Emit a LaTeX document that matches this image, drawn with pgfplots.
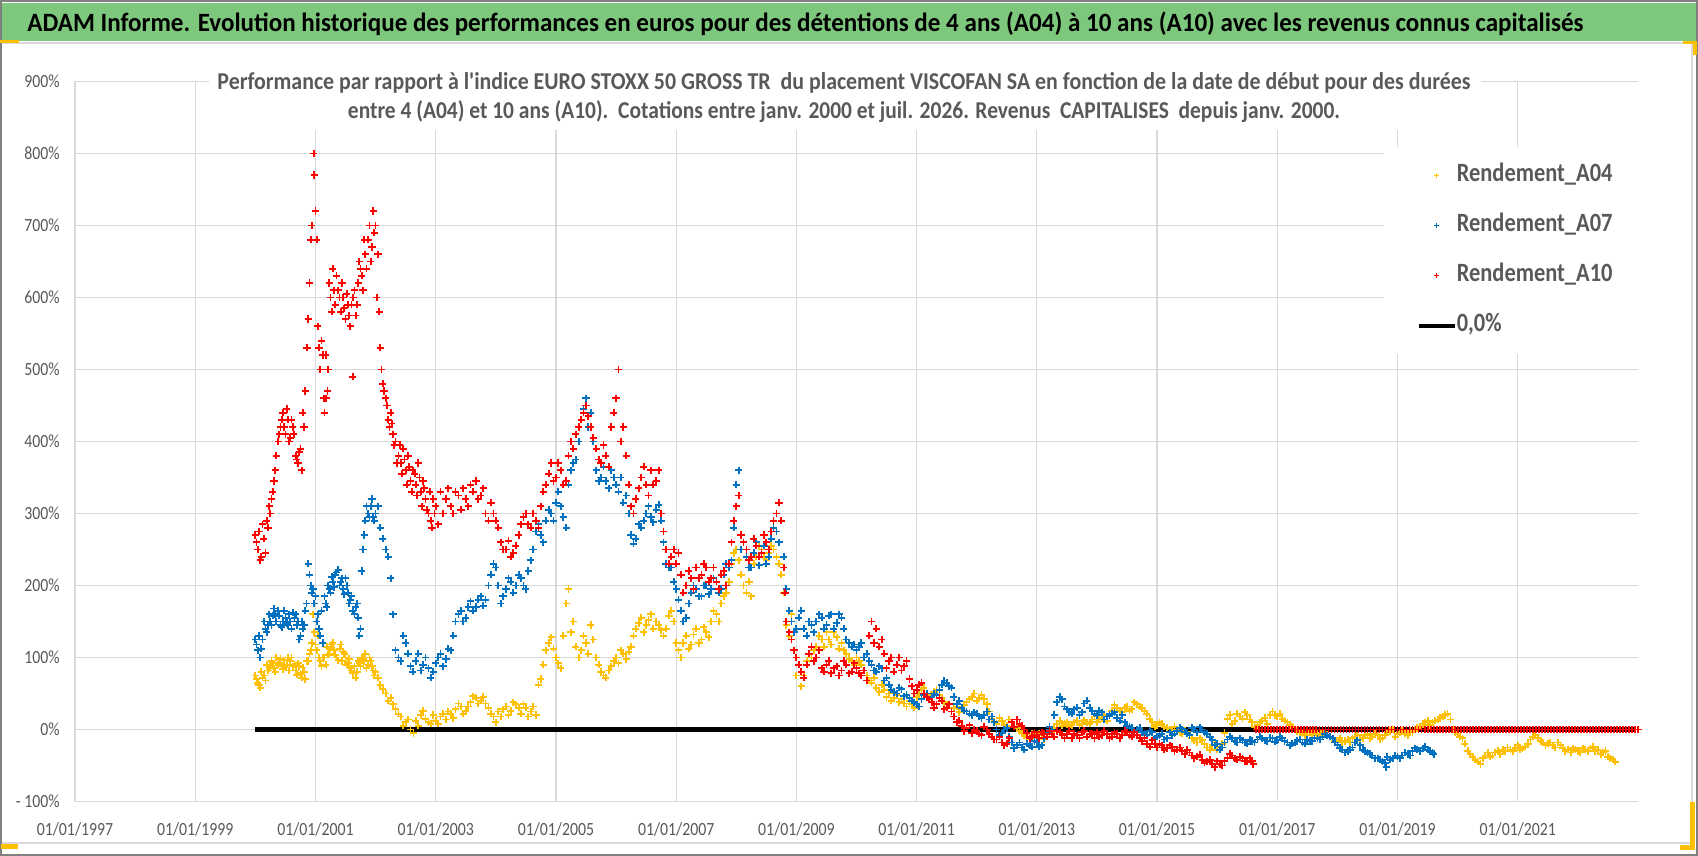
\documentclass[border=0pt]{standalone}
\usepackage{fontspec}
\setmainfont{Carlito}
\usepackage{graphicx}
\usepackage{pgfplots}
\pgfplotsset{compat=1.18}
\definecolor{cyel}{HTML}{FFC000}
\definecolor{cblu}{HTML}{0070C0}
\definecolor{cred}{HTML}{FF0000}
\definecolor{cgrid}{HTML}{D9D9D9}
\definecolor{ctxt}{HTML}{595959}
\definecolor{cgreen}{HTML}{7EC87E}
\definecolor{corange}{HTML}{FFC000}
\newcommand{\tk}[1]{\scalebox{0.85}[1]{#1}}
\newcommand{\lgt}[1]{\scalebox{0.85}[1]{#1}}
\pgfplotsset{
  mklegend/.style={legend image code/.code={\path (0pt,0pt) (18pt,0pt); \draw[##1, mark size=1.3pt, line width=0.6pt] plot coordinates {(9pt,0pt)};}},
  lnlegend/.style={legend image code/.code={\draw[##1] (0pt,0pt) -- (18pt,0pt);}},
  pts/.style={only marks, mark=+, mark size=1.8pt, line width=0.9pt},
}
\begin{document}
\begin{tikzpicture}[x=1pt,y=1pt]
\useasboundingbox (0,0) rectangle (849,428);
\fill[white] (0,0) rectangle (849,428);
\draw[cgrid, line width=0.6pt] (0.5,6.5) rectangle (846,406.5);
\fill[cgreen] (0.5,407.6) rectangle (848.5,426.4);
\draw[gray, line width=1pt] (0.5,0.5) rectangle (848.5,427.5);
\fill[corange] (0,406.5) rectangle (9.5,407.8);
\fill[corange] (841.5,406) rectangle (848.5,407.6);
\fill[corange] (846.5,400.5) rectangle (848.5,407.6);
\fill[corange] (845,3) rectangle (847.5,27);
\fill[corange] (840,3) rectangle (847.5,5.5);
\fill[corange] (0.5,3.5) rectangle (9,6);
\node[anchor=base west, inner sep=0pt] at (13.5,412.15) {\resizebox{778pt}{\height}{\fontsize{13.2}{15}\selectfont\bfseries ADAM Informe. Evolution historique des performances en euros pour des détentions de 4 ans (A04) à 10 ans (A10) avec les revenus connus capitalisés}};
\begin{axis}[
  at={(37.5pt,27.25pt)}, anchor=south west, scale only axis,
  width=781.5pt, height=360pt,
  xmin=1997, xmax=2023, ymin=-100, ymax=900,
  axis line style={draw=none},
  tick style={draw=none},
  xtick={1997,1999,2001,2003,2005,2007,2009,2011,2013,2015,2017,2019,2021},
  xticklabels={\tk{01/01/1997},\tk{01/01/1999},\tk{01/01/2001},\tk{01/01/2003},\tk{01/01/2005},\tk{01/01/2007},\tk{01/01/2009},\tk{01/01/2011},\tk{01/01/2013},\tk{01/01/2015},\tk{01/01/2017},\tk{01/01/2019},\tk{01/01/2021}},
  ytick={-100,0,100,200,300,400,500,600,700,800,900},
  yticklabels={\tk{- 100\%},\tk{0\%},\tk{100\%},\tk{200\%},\tk{300\%},\tk{400\%},\tk{500\%},\tk{600\%},\tk{700\%},\tk{800\%},\tk{900\%}},
  xmajorgrids, ymajorgrids,
  major grid style={cgrid, line width=0.6pt},
  ticklabel style={font=\fontsize{9.3}{11}\selectfont, text=ctxt},
  xticklabel style={anchor=center, yshift=-13.75pt},
  yticklabel style={anchor=east, inner sep=0pt, xshift=-7.5pt},
  legend style={at={(0.8375,0.909)}, anchor=north west, fill=white, draw=none,
    inner xsep=16pt, inner ysep=8.2pt, row sep=13pt,
    font=\fontsize{13.2}{15}\selectfont\bfseries, text=ctxt,
    nodes={inner sep=0pt, text height=9pt, text depth=3pt},
    /tikz/every even column/.append style={column sep=2.5pt}},
  legend cell align=left,
]
\addplot[black, line width=2.2pt, no marks, forget plot] coordinates {(2000.0,0) (2022.95,0)};
\addplot[cyel, pts, mklegend] coordinates {
(2000.00,75) (2000.08,58) (2000.17,68) (2000.25,88) (2000.33,80) (2000.42,98) (2000.50,86) (2000.58,95) (2000.67,82) (2000.75,78) (2000.83,70) (2000.92,110) (2000.96,160) (2001.00,118)
(2001.08,95) (2001.17,90) (2001.25,112) (2001.33,104) (2001.42,118) (2001.50,100) (2001.58,85) (2001.67,72) (2001.75,88) (2001.83,105) (2001.92,95)
(2002.00,80) (2002.08,62) (2002.17,50) (2002.25,44) (2002.33,28) (2002.42,18) (2002.50,10) (2002.58,0) (2002.63,-5) (2002.67,12) (2002.75,20) (2002.83,15) (2002.92,8)
(2003.00,12) (2003.08,18) (2003.17,14) (2003.25,22) (2003.33,28) (2003.42,32) (2003.50,26) (2003.58,38) (2003.67,44) (2003.75,40) (2003.83,36) (2003.92,22)
(2004.00,10) (2004.08,18) (2004.17,32) (2004.25,26) (2004.33,35) (2004.42,22) (2004.50,30) (2004.58,25) (2004.67,20) (2004.75,70) (2004.83,110) (2004.92,128)
(2005.00,100) (2005.08,85) (2005.17,175) (2005.21,195) (2005.25,135) (2005.33,115) (2005.42,110) (2005.50,120) (2005.58,145) (2005.67,100) (2005.75,80) (2005.83,72) (2005.92,88)
(2006.00,100) (2006.08,110) (2006.17,98) (2006.25,115) (2006.33,140) (2006.42,155) (2006.50,145) (2006.58,160) (2006.67,150) (2006.75,138) (2006.83,140) (2006.92,165)
(2007.00,120) (2007.08,100) (2007.17,130) (2007.25,118) (2007.33,140) (2007.42,125) (2007.50,135) (2007.58,150) (2007.67,160) (2007.75,175) (2007.83,190) (2007.92,230)
(2008.00,250) (2008.08,215) (2008.17,190) (2008.25,185) (2008.33,240) (2008.42,250) (2008.50,235) (2008.58,255) (2008.67,240) (2008.75,215) (2008.83,145) (2008.92,160)
(2009.00,75) (2009.08,60) (2009.17,95) (2009.25,100) (2009.33,115) (2009.42,125) (2009.50,135) (2009.58,118) (2009.67,128) (2009.75,120) (2009.83,105) (2009.92,95)
(2010.00,100) (2010.08,90) (2010.17,75) (2010.25,65) (2010.33,58) (2010.42,62) (2010.50,45) (2010.58,40) (2010.67,48) (2010.75,42) (2010.83,32) (2010.92,35)
(2011.00,45) (2011.08,55) (2011.17,50) (2011.25,48) (2011.33,55) (2011.42,44) (2011.50,30) (2011.58,25) (2011.67,32) (2011.75,28) (2011.83,38) (2011.92,45)
(2012.00,40) (2012.08,48) (2012.17,35) (2012.25,15) (2012.33,8) (2012.42,12) (2012.50,5) (2012.58,10) (2012.67,2) (2012.75,-5) (2012.83,-10) (2012.92,-6)
(2013.00,-12) (2013.08,-8) (2013.17,-10) (2013.25,-4) (2013.33,8) (2013.42,5) (2013.50,10) (2013.58,6) (2013.67,12) (2013.75,8) (2013.83,10) (2013.92,14)
(2014.00,10) (2014.08,16) (2014.17,12) (2014.25,26) (2014.33,30) (2014.42,24) (2014.50,32) (2014.58,28) (2014.67,35) (2014.75,30) (2014.83,22) (2014.92,10)
(2015.00,6) (2015.08,8) (2015.17,2) (2015.25,-2) (2015.33,0) (2015.42,-6) (2015.50,-4) (2015.58,-12) (2015.67,-18) (2015.75,-15) (2015.83,-25) (2015.92,-22)
(2016.00,-28) (2016.08,-20) (2016.17,15) (2016.25,8) (2016.33,22) (2016.42,15) (2016.50,20) (2016.58,10) (2016.67,6) (2016.75,12) (2016.83,8) (2016.92,25)
(2017.00,18) (2017.08,15) (2017.17,10) (2017.25,4) (2017.33,-2) (2017.42,-5) (2017.50,-4) (2017.58,-8) (2017.67,-6) (2017.75,-2) (2017.83,-8) (2017.92,-12)
(2018.00,-15) (2018.08,-18) (2018.17,-14) (2018.25,-12) (2018.33,-8) (2018.42,-12) (2018.50,-6) (2018.58,-10) (2018.67,-8) (2018.75,-12) (2018.83,-4) (2018.92,0)
(2019.00,-6) (2019.08,-2) (2019.17,-8) (2019.25,-4) (2019.33,2) (2019.42,8) (2019.50,12) (2019.58,10) (2019.67,14) (2019.75,18) (2019.83,22) (2019.92,0)
(2020.00,-6) (2020.08,-12) (2020.17,-30) (2020.25,-38) (2020.33,-45) (2020.42,-40) (2020.50,-32) (2020.58,-36) (2020.67,-30) (2020.75,-28) (2020.83,-25) (2020.92,-30)
(2021.00,-22) (2021.08,-26) (2021.17,-20) (2021.25,-10) (2021.33,-12) (2021.42,-18) (2021.50,-20) (2021.58,-22) (2021.67,-18) (2021.75,-26) (2021.83,-28) (2021.92,-26)
(2022.00,-30) (2022.08,-26) (2022.17,-30) (2022.25,-24) (2022.33,-28) (2022.42,-32) (2022.50,-38) (2022.58,-42)
};
\addlegendentry{\lgt{Rendement\_A04}}
\addplot[cyel, pts, forget plot] coordinates {
(2000.04,65) (2000.12,72) (2000.21,82) (2000.29,92) (2000.38,90) (2000.46,84) (2000.54,100) (2000.62,88) (2000.71,92) (2000.79,86) (2000.88,95) (2001.04,130) (2001.12,100)
(2001.21,104) (2001.29,120) (2001.38,96) (2001.46,108) (2001.54,92) (2001.62,78) (2001.71,95) (2001.79,98) (2001.88,90) (2001.96,82)
(2002.04,72) (2002.12,56) (2002.21,40) (2002.29,35) (2002.38,22) (2002.46,5) (2002.54,14) (2002.71,5) (2002.79,26) (2002.88,10) (2002.96,20)
(2003.04,8) (2003.12,22) (2003.21,25) (2003.29,16) (2003.38,36) (2003.46,22) (2003.54,32) (2003.62,46) (2003.71,36) (2003.79,45) (2003.88,30) (2003.96,18)
(2004.04,25) (2004.12,28) (2004.21,20) (2004.29,38) (2004.38,30) (2004.46,35) (2004.54,18) (2004.62,32) (2004.71,62) (2004.79,90) (2004.88,120) (2004.96,112)
(2005.04,92) (2005.12,130) (2005.29,150) (2005.38,100) (2005.46,130) (2005.54,105) (2005.62,125) (2005.71,90) (2005.79,75) (2005.88,82) (2005.96,95)
(2006.04,92) (2006.12,105) (2006.21,108) (2006.29,130) (2006.38,148) (2006.46,135) (2006.54,152) (2006.62,140) (2006.71,145) (2006.79,130) (2006.88,158) (2006.96,150)
(2007.04,110) (2007.12,120) (2007.21,112) (2007.29,132) (2007.38,120) (2007.46,142) (2007.54,128) (2007.62,165) (2007.71,150) (2007.79,185) (2007.88,205) (2007.96,245)
(2008.04,235) (2008.12,200) (2008.21,205) (2008.29,230) (2008.38,255) (2008.46,240) (2008.54,245) (2008.62,250) (2008.71,230) (2008.79,190) (2008.88,130) (2008.96,110)
(2009.04,90) (2009.12,75) (2009.21,105) (2009.29,110) (2009.38,130) (2009.46,115) (2009.54,125) (2009.62,135) (2009.71,112) (2009.79,110) (2009.88,98) (2009.96,90)
(2010.04,95) (2010.12,82) (2010.21,68) (2010.29,72) (2010.38,52) (2010.46,55) (2010.54,50) (2010.62,44) (2010.71,38) (2010.79,36) (2010.88,40) (2010.96,30)
(2011.04,50) (2011.12,58) (2011.21,44) (2011.29,52) (2011.38,48) (2011.46,38) (2011.54,35) (2011.62,30) (2011.71,24) (2011.79,34) (2011.88,42) (2011.96,50)
(2012.04,44) (2012.12,42) (2012.21,25) (2012.29,10) (2012.38,16) (2012.46,6) (2012.54,14) (2012.62,4) (2012.71,-2) (2012.79,-8) (2012.88,-14) (2012.96,-10)
(2013.04,-6) (2013.12,-14) (2013.21,-6) (2013.29,2) (2013.38,12) (2013.46,8) (2013.54,4) (2013.62,10) (2013.71,6) (2013.79,13) (2013.88,8) (2013.96,18)
(2014.04,14) (2014.12,20) (2014.21,22) (2014.29,34) (2014.38,26) (2014.46,30) (2014.54,26) (2014.62,38) (2014.71,32) (2014.79,26) (2014.88,15) (2014.96,4)
(2015.04,10) (2015.12,4) (2015.21,0) (2015.29,4) (2015.38,-4) (2015.46,-2) (2015.54,-8) (2015.62,-15) (2015.71,-12) (2015.79,-20) (2015.88,-28) (2015.96,-18)
(2016.04,-24) (2016.12,-5) (2016.21,20) (2016.29,12) (2016.38,18) (2016.46,24) (2016.54,14) (2016.62,4) (2016.71,10) (2016.79,16) (2016.88,20) (2016.96,20)
(2017.04,22) (2017.12,12) (2017.21,6) (2017.29,0) (2017.38,-4) (2017.46,-8) (2017.54,-2) (2017.62,-6) (2017.71,-9) (2017.79,-4) (2017.88,-10) (2017.96,-16)
(2018.04,-12) (2018.12,-16) (2018.21,-18) (2018.29,-10) (2018.38,-14) (2018.46,-8) (2018.54,-12) (2018.62,-6) (2018.71,-14) (2018.79,-8) (2018.88,-2) (2018.96,-10)
(2019.04,-4) (2019.12,-6) (2019.21,-2) (2019.29,0) (2019.38,4) (2019.46,10) (2019.54,6) (2019.62,12) (2019.71,16) (2019.79,20) (2019.88,14) (2019.96,-4)
(2020.04,-10) (2020.12,-20) (2020.21,-34) (2020.29,-42) (2020.38,-48) (2020.46,-36) (2020.54,-38) (2020.62,-32) (2020.71,-34) (2020.79,-30) (2020.88,-28) (2020.96,-26)
(2021.04,-28) (2021.12,-24) (2021.21,-14) (2021.29,-8) (2021.38,-16) (2021.46,-22) (2021.54,-18) (2021.62,-25) (2021.71,-22) (2021.79,-30) (2021.88,-32) (2021.96,-28)
(2022.04,-32) (2022.12,-28) (2022.21,-26) (2022.29,-30) (2022.38,-34) (2022.46,-30) (2022.54,-40) (2022.62,-45)
};
\addplot[cyel, pts, forget plot] coordinates {
(2000.02,70) (2000.06,62) (2000.10,80) (2000.15,75) (2000.19,90) (2000.23,85) (2000.27,95) (2000.31,85) (2000.35,100) (2000.40,92) (2000.44,88) (2000.48,96) (2000.52,90) (2000.56,82)
(2000.60,100) (2000.65,90) (2000.69,76) (2000.73,88) (2000.77,72) (2000.81,80) (2000.85,95) (2000.90,105) (2000.94,120) (2000.98,135)
(2001.02,110) (2001.06,100) (2001.10,88) (2001.15,100) (2001.19,115) (2001.23,105) (2001.27,118) (2001.31,110) (2001.35,100) (2001.40,112) (2001.44,95) (2001.48,105)
(2001.52,90) (2001.56,98) (2001.60,82) (2001.65,88) (2001.69,80) (2001.73,92) (2001.77,100) (2001.81,95) (2001.85,85) (2001.90,100) (2001.94,88) (2001.98,75)
};
\addplot[cblu, pts, mklegend] coordinates {
(2000.00,125) (2000.04,110) (2000.08,100) (2000.12,125) (2000.17,140) (2000.25,150) (2000.33,160) (2000.42,145) (2000.50,155) (2000.58,150) (2000.67,160) (2000.75,130) (2000.83,165) (2000.88,230) (2000.92,200)
(2001.00,185) (2001.04,160) (2001.08,130) (2001.12,120) (2001.17,175) (2001.25,190) (2001.33,215) (2001.42,205) (2001.50,210) (2001.58,180) (2001.67,170) (2001.75,140) (2001.79,250) (2001.83,290) (2001.92,310)
(2002.00,300) (2002.08,280) (2002.17,250) (2002.25,210) (2002.29,160) (2002.33,110) (2002.42,95) (2002.50,120) (2002.58,88) (2002.67,95) (2002.75,82) (2002.83,100) (2002.92,72)
(2003.00,92) (2003.08,105) (2003.17,98) (2003.25,110) (2003.33,150) (2003.42,165) (2003.50,155) (2003.58,178) (2003.67,170) (2003.75,185) (2003.83,180) (2003.92,215)
(2004.00,225) (2004.08,175) (2004.17,195) (2004.25,205) (2004.33,200) (2004.42,210) (2004.50,195) (2004.58,235) (2004.67,275) (2004.75,270) (2004.83,290) (2004.92,300)
(2005.00,315) (2005.08,310) (2005.17,280) (2005.25,360) (2005.33,375) (2005.42,430) (2005.50,460) (2005.54,420) (2005.58,440) (2005.67,360) (2005.75,350) (2005.83,345) (2005.92,360)
(2006.00,340) (2006.08,350) (2006.17,325) (2006.25,270) (2006.33,265) (2006.42,280) (2006.50,300) (2006.58,295) (2006.67,305) (2006.75,290) (2006.83,230) (2006.92,225)
(2007.00,195) (2007.08,165) (2007.17,155) (2007.25,190) (2007.33,195) (2007.42,185) (2007.50,200) (2007.58,195) (2007.67,205) (2007.75,195) (2007.83,230) (2007.92,235)
(2008.00,340) (2008.04,360) (2008.08,250) (2008.17,240) (2008.25,225) (2008.33,260) (2008.42,245) (2008.50,230) (2008.58,265) (2008.67,275) (2008.75,290) (2008.83,195) (2008.92,150)
(2009.00,140) (2009.08,165) (2009.17,130) (2009.25,145) (2009.33,150) (2009.42,155) (2009.50,145) (2009.58,160) (2009.67,148) (2009.75,155) (2009.83,125) (2009.92,115)
(2010.00,110) (2010.08,120) (2010.17,105) (2010.25,90) (2010.33,80) (2010.42,85) (2010.50,72) (2010.58,55) (2010.67,50) (2010.75,56) (2010.83,48) (2010.92,40)
(2011.00,35) (2011.08,42) (2011.17,50) (2011.25,45) (2011.33,48) (2011.42,62) (2011.50,65) (2011.58,58) (2011.67,35) (2011.75,30) (2011.83,25) (2011.92,20)
(2012.00,22) (2012.08,16) (2012.17,25) (2012.25,18) (2012.33,0) (2012.42,-5) (2012.50,2) (2012.58,-18) (2012.67,-22) (2012.75,-25) (2012.83,-20) (2012.92,-24)
(2013.00,-18) (2013.08,-22) (2013.17,-5) (2013.25,0) (2013.33,38) (2013.42,42) (2013.50,28) (2013.58,22) (2013.67,30) (2013.75,24) (2013.83,40) (2013.92,26)
(2014.00,20) (2014.08,24) (2014.17,18) (2014.25,22) (2014.33,16) (2014.42,20) (2014.50,5) (2014.58,2) (2014.67,0) (2014.75,-4) (2014.83,-8) (2014.92,-4)
(2015.00,-10) (2015.08,-6) (2015.17,-12) (2015.25,-8) (2015.33,-2) (2015.42,0) (2015.50,-5) (2015.58,2) (2015.67,-4) (2015.75,0) (2015.83,-6) (2015.92,-15)
(2016.00,-20) (2016.08,-25) (2016.17,-14) (2016.25,-12) (2016.33,-18) (2016.42,-15) (2016.50,-20) (2016.58,-16) (2016.67,-14) (2016.75,-12) (2016.83,-16) (2016.92,-12)
(2017.00,-15) (2017.08,-12) (2017.17,-18) (2017.25,-20) (2017.33,-16) (2017.42,-18) (2017.50,-14) (2017.58,-16) (2017.67,-12) (2017.75,-10) (2017.83,-8) (2017.92,-12)
(2018.00,-22) (2018.08,-28) (2018.17,-30) (2018.25,-25) (2018.33,-15) (2018.42,-28) (2018.50,-32) (2018.58,-36) (2018.67,-40) (2018.75,-44) (2018.81,-52) (2018.83,-38) (2018.92,-40)
(2019.00,-38) (2019.08,-36) (2019.17,-34) (2019.25,-30) (2019.33,-28) (2019.42,-26) (2019.50,-28) (2019.58,-32)
};
\addlegendentry{\lgt{Rendement\_A07}}
\addplot[cblu, pts, forget plot] coordinates {
(2000.21,145) (2000.29,158) (2000.38,165) (2000.46,150) (2000.54,145) (2000.62,162) (2000.71,150) (2000.79,140) (2000.96,195)
(2001.21,200) (2001.29,205) (2001.38,222) (2001.46,195) (2001.54,190) (2001.62,165) (2001.71,155) (2001.88,300) (2001.96,295)
(2002.04,310) (2002.12,265) (2002.21,240) (2002.38,100) (2002.46,130) (2002.54,105) (2002.62,80) (2002.71,105) (2002.79,90) (2002.88,85) (2002.96,80)
(2003.04,100) (2003.12,88) (2003.21,112) (2003.29,130) (2003.38,160) (2003.46,150) (2003.54,170) (2003.62,165) (2003.71,180) (2003.79,172) (2003.88,200) (2003.96,230)
(2004.04,200) (2004.12,185) (2004.21,210) (2004.29,190) (2004.38,215) (2004.46,200) (2004.54,220) (2004.62,250) (2004.71,285) (2004.79,260) (2004.88,305) (2004.96,290)
(2005.04,330) (2005.12,295) (2005.21,340) (2005.29,370) (2005.38,400) (2005.46,445) (2005.62,400) (2005.71,345) (2005.79,365) (2005.88,335) (2005.96,350)
(2006.04,330) (2006.12,315) (2006.21,300) (2006.29,258) (2006.38,285) (2006.46,290) (2006.54,310) (2006.62,288) (2006.71,312) (2006.79,260) (2006.88,225) (2006.96,205)
(2007.04,180) (2007.12,150) (2007.21,175) (2007.29,200) (2007.38,185) (2007.46,200) (2007.54,188) (2007.62,210) (2007.71,190) (2007.79,215) (2007.88,225) (2007.96,280)
(2008.12,260) (2008.21,225) (2008.29,245) (2008.38,228) (2008.46,255) (2008.54,240) (2008.62,280) (2008.71,260) (2008.79,240) (2008.88,165) (2008.96,135)
(2009.04,155) (2009.12,140) (2009.21,150) (2009.29,135) (2009.38,160) (2009.46,140) (2009.54,158) (2009.62,140) (2009.71,160) (2009.79,140) (2009.88,120) (2009.96,118)
(2010.04,115) (2010.12,100) (2010.21,95) (2010.29,82) (2010.38,88) (2010.46,68) (2010.54,62) (2010.62,52) (2010.71,58) (2010.79,46) (2010.88,44) (2010.96,38)
(2011.04,32) (2011.12,48) (2011.21,42) (2011.29,50) (2011.38,55) (2011.46,68) (2011.54,60) (2011.62,45) (2011.71,40) (2011.79,26) (2011.88,22) (2011.96,24)
(2012.04,18) (2012.12,20) (2012.21,14) (2012.29,10) (2012.38,-8) (2012.46,0) (2012.54,-10) (2012.62,-26) (2012.71,-18) (2012.79,-28) (2012.88,-22) (2012.96,-16)
(2013.04,-24) (2013.12,-12) (2013.21,4) (2013.29,20) (2013.38,45) (2013.46,32) (2013.54,24) (2013.62,28) (2013.71,20) (2013.79,36) (2013.88,30) (2013.96,22)
(2014.04,26) (2014.12,14) (2014.21,20) (2014.29,24) (2014.38,12) (2014.46,10) (2014.54,4) (2014.62,-2) (2014.71,2) (2014.79,-6) (2014.88,-2) (2014.96,-12)
(2015.04,-8) (2015.12,-14) (2015.21,-4) (2015.29,-6) (2015.38,2) (2015.46,-3) (2015.54,-8) (2015.62,0) (2015.71,3) (2015.79,-4) (2015.88,-10) (2015.96,-22)
(2016.04,-28) (2016.12,-18) (2016.21,-10) (2016.29,-16) (2016.38,-12) (2016.46,-18) (2016.54,-14) (2016.62,-18) (2016.71,-10) (2016.79,-15) (2016.88,-11) (2016.96,-17)
(2017.04,-10) (2017.12,-16) (2017.21,-22) (2017.29,-18) (2017.38,-14) (2017.46,-20) (2017.54,-16) (2017.62,-12) (2017.71,-14) (2017.79,-6) (2017.88,-10) (2017.96,-18)
(2018.04,-26) (2018.12,-32) (2018.21,-28) (2018.29,-18) (2018.38,-22) (2018.46,-30) (2018.54,-34) (2018.62,-40) (2018.71,-42) (2018.79,-46) (2018.88,-42) (2018.96,-36)
(2019.04,-40) (2019.12,-32) (2019.21,-36) (2019.29,-26) (2019.38,-30) (2019.46,-24) (2019.54,-30) (2019.60,-34)
};
\addplot[cblu, pts, forget plot] coordinates {
(2000.02,118) (2000.06,130) (2000.10,112) (2000.15,150) (2000.19,135) (2000.23,160) (2000.27,145) (2000.31,168) (2000.35,150) (2000.40,158) (2000.44,142) (2000.48,165)
(2000.52,148) (2000.56,160) (2000.60,140) (2000.65,155) (2000.69,145) (2000.73,125) (2000.77,150) (2000.81,145) (2000.85,175) (2000.90,215) (2000.94,190) (2000.98,175)
(2001.02,150) (2001.06,140) (2001.10,165) (2001.15,185) (2001.19,170) (2001.23,195) (2001.27,212) (2001.31,198) (2001.35,218) (2001.40,200) (2001.44,210) (2001.48,188)
(2001.52,200) (2001.56,175) (2001.60,185) (2001.65,160) (2001.69,175) (2001.73,130) (2001.77,220) (2001.81,270) (2001.85,310) (2001.90,295) (2001.94,320) (2001.98,290)
};
\addplot[cred, pts, mklegend] coordinates {
(2000.00,270) (2000.04,250) (2000.08,235) (2000.12,285) (2000.17,245) (2000.21,280) (2000.25,300) (2000.29,330) (2000.33,360) (2000.38,400) (2000.42,420) (2000.46,440) (2000.50,410) (2000.54,430)
(2000.58,405) (2000.62,420) (2000.67,380) (2000.71,370) (2000.75,390) (2000.79,440) (2000.83,470) (2000.86,530) (2000.88,570) (2000.90,620) (2000.92,680) (2000.94,700) (2000.97,800) (2000.98,770)
(2001.00,720) (2001.02,680) (2001.04,560) (2001.06,530) (2001.08,500) (2001.12,520) (2001.15,440) (2001.18,460) (2001.21,500) (2001.25,600) (2001.29,640) (2001.33,590) (2001.38,610) (2001.42,580)
(2001.46,600) (2001.50,570) (2001.54,590) (2001.58,560) (2001.62,490) (2001.63,600) (2001.67,575) (2001.71,620) (2001.75,640) (2001.79,610) (2001.83,660) (2001.88,680) (2001.92,650) (2001.96,720)
(2002.00,700) (2002.04,660) (2002.06,580) (2002.08,530) (2002.12,480) (2002.17,460) (2002.21,430) (2002.25,440) (2002.29,410) (2002.33,400) (2002.38,380) (2002.42,370) (2002.46,390) (2002.50,360)
(2002.54,380) (2002.58,345) (2002.62,360) (2002.67,340) (2002.71,370) (2002.75,330) (2002.79,345) (2002.83,320) (2002.88,300) (2002.92,290) (2002.96,320)
(2003.00,310) (2003.04,285) (2003.08,330) (2003.17,320) (2003.25,310) (2003.33,330) (2003.42,305) (2003.50,320) (2003.58,340) (2003.67,345) (2003.75,325) (2003.83,300) (2003.92,315)
(2004.00,290) (2004.08,260) (2004.17,250) (2004.25,240) (2004.33,255) (2004.42,285) (2004.50,300) (2004.58,280) (2004.67,290) (2004.75,310) (2004.83,340) (2004.92,370)
(2005.00,350) (2005.08,360) (2005.17,345) (2005.25,400) (2005.33,410) (2005.42,430) (2005.50,450) (2005.58,420) (2005.67,390) (2005.75,370) (2005.83,380) (2005.92,420)
(2006.00,460) (2006.04,500) (2006.08,400) (2006.17,380) (2006.25,310) (2006.33,320) (2006.42,350) (2006.50,340) (2006.58,360) (2006.67,345) (2006.75,300) (2006.83,250) (2006.92,240)
(2007.00,230) (2007.08,215) (2007.17,200) (2007.25,210) (2007.33,225) (2007.42,215) (2007.50,225) (2007.58,210) (2007.67,205) (2007.75,215) (2007.83,200) (2007.92,260)
(2008.00,310) (2008.04,325) (2008.08,270) (2008.17,250) (2008.25,240) (2008.33,255) (2008.42,245) (2008.50,260) (2008.58,275) (2008.67,300) (2008.75,290) (2008.79,225) (2008.83,150) (2008.92,125)
(2009.00,100) (2009.08,80) (2009.17,90) (2009.25,115) (2009.33,100) (2009.42,85) (2009.50,90) (2009.58,78) (2009.67,88) (2009.75,82) (2009.83,90) (2009.92,80)
(2010.00,85) (2010.08,75) (2010.17,68) (2010.21,130) (2010.25,150) (2010.29,120) (2010.33,140) (2010.38,115) (2010.42,125) (2010.50,85) (2010.58,100) (2010.67,90) (2010.75,82) (2010.83,95) (2010.92,60)
(2011.00,55) (2011.08,65) (2011.17,45) (2011.25,38) (2011.33,35) (2011.42,40) (2011.50,30) (2011.58,25) (2011.67,10) (2011.75,5) (2011.83,2) (2011.92,-5)
(2012.00,-2) (2012.08,-8) (2012.17,0) (2012.25,-10) (2012.33,-14) (2012.42,-18) (2012.50,-20) (2012.58,10) (2012.67,14) (2012.75,5) (2012.83,-5) (2012.92,-10)
(2013.00,-8) (2013.08,-4) (2013.17,-10) (2013.25,-6) (2013.33,-2) (2013.42,-8) (2013.50,-6) (2013.58,-12) (2013.67,-8) (2013.75,-4) (2013.83,-10) (2013.92,-6)
(2014.00,-4) (2014.08,-8) (2014.17,-6) (2014.25,-10) (2014.33,-6) (2014.42,-8) (2014.50,-4) (2014.58,-10) (2014.67,-8) (2014.75,-16) (2014.83,-20) (2014.92,-15)
(2015.00,-25) (2015.08,-22) (2015.17,-26) (2015.25,-24) (2015.33,-28) (2015.42,-30) (2015.50,-28) (2015.58,-36) (2015.67,-38) (2015.75,-42) (2015.83,-45) (2015.92,-48)
(2016.00,-44) (2016.08,-50) (2016.17,-40) (2016.25,-36) (2016.33,-42) (2016.42,-40) (2016.50,-45) (2016.58,-44)
(2016.65,0) (2016.70,0) (2016.75,0) (2016.80,0) (2016.85,0) (2016.90,0) (2016.95,0) (2017.00,0) (2017.05,0) (2017.10,0) (2017.15,0) (2017.20,0) (2017.25,0) (2017.30,0) (2017.35,0) (2017.40,0)
(2017.45,0) (2017.50,0) (2017.55,0) (2017.60,0) (2017.65,0) (2017.70,0) (2017.75,0) (2017.80,0) (2017.85,0) (2017.90,0) (2017.95,0) (2018.00,0) (2018.05,0) (2018.10,0) (2018.15,0) (2018.20,0)
(2018.25,0) (2018.30,0) (2018.35,0) (2018.40,0) (2018.45,0) (2018.50,0) (2018.55,0) (2018.60,0) (2018.65,0) (2018.70,0) (2018.75,0) (2018.80,0) (2018.85,0) (2018.90,0) (2018.95,0) (2019.00,0)
(2019.05,0) (2019.10,0) (2019.15,0) (2019.20,0) (2019.25,0) (2019.30,0) (2019.35,0) (2019.40,0) (2019.45,0) (2019.50,0) (2019.55,0) (2019.60,0) (2019.65,0) (2019.70,0) (2019.75,0) (2019.80,0)
(2019.85,0) (2019.90,0) (2019.95,0) (2020.00,0) (2020.05,0) (2020.10,0) (2020.15,0) (2020.20,0) (2020.25,0) (2020.30,0) (2020.35,0) (2020.40,0) (2020.45,0) (2020.50,0) (2020.55,0) (2020.60,0)
(2020.65,0) (2020.70,0) (2020.75,0) (2020.80,0) (2020.85,0) (2020.90,0) (2020.95,0) (2021.00,0) (2021.05,0) (2021.10,0) (2021.15,0) (2021.20,0) (2021.25,0) (2021.30,0) (2021.35,0) (2021.40,0)
(2021.45,0) (2021.50,0) (2021.55,0) (2021.60,0) (2021.65,0) (2021.70,0) (2021.75,0) (2021.80,0) (2021.85,0) (2021.90,0) (2021.95,0) (2022.00,0) (2022.05,0) (2022.10,0) (2022.15,0) (2022.20,0)
(2022.25,0) (2022.30,0) (2022.35,0) (2022.40,0) (2022.45,0) (2022.50,0) (2022.55,0) (2022.60,0) (2022.65,0) (2022.70,0) (2022.75,0) (2022.80,0) (2022.85,0) (2022.90,0) (2022.95,0) (2023.00,0)
};
\addlegendentry{\lgt{Rendement\_A10}}
\addplot[cred, pts, forget plot] coordinates {
(2003.12,300) (2003.21,335) (2003.29,300) (2003.38,325) (2003.46,335) (2003.54,310) (2003.62,330) (2003.71,320) (2003.79,335) (2003.88,290) (2003.96,300)
(2004.04,280) (2004.12,250) (2004.21,262) (2004.29,245) (2004.38,270) (2004.46,295) (2004.54,285) (2004.62,300) (2004.71,280) (2004.79,330) (2004.88,355) (2004.96,345)
(2005.04,370) (2005.12,340) (2005.21,380) (2005.29,390) (2005.38,420) (2005.46,440) (2005.54,435) (2005.62,405) (2005.71,375) (2005.79,395) (2005.88,365) (2005.96,440)
(2006.12,420) (2006.21,340) (2006.29,300) (2006.38,335) (2006.46,365) (2006.54,325) (2006.62,340) (2006.71,360) (2006.79,275) (2006.88,230) (2006.96,250)
(2007.04,245) (2007.12,190) (2007.21,220) (2007.29,195) (2007.38,210) (2007.46,230) (2007.54,205) (2007.62,225) (2007.71,195) (2007.79,220) (2007.88,230) (2007.96,290)
(2008.12,260) (2008.21,235) (2008.29,265) (2008.38,240) (2008.46,270) (2008.54,250) (2008.62,290) (2008.71,315) (2008.81,190) (2008.88,135) (2008.96,110)
(2009.04,90) (2009.12,72) (2009.21,105) (2009.29,95) (2009.38,110) (2009.46,80) (2009.54,95) (2009.62,85) (2009.71,75) (2009.79,95) (2009.88,78) (2009.96,92)
(2010.04,78) (2010.12,82) (2010.46,105) (2010.54,95) (2010.62,80) (2010.71,100) (2010.79,88) (2010.88,70) (2010.96,50)
(2011.04,62) (2011.12,50) (2011.21,42) (2011.29,30) (2011.38,44) (2011.46,28) (2011.54,35) (2011.62,18) (2011.71,12) (2011.79,-2) (2011.88,6) (2011.96,0)
(2012.04,-6) (2012.12,4) (2012.21,-6) (2012.29,-14) (2012.38,-10) (2012.46,-22) (2012.54,-12) (2012.62,4) (2012.71,8) (2012.79,0) (2012.88,-12) (2012.96,-4)
(2013.04,-12) (2013.12,-6) (2013.21,-2) (2013.29,-10) (2013.38,-4) (2013.46,-12) (2013.54,-2) (2013.62,-6) (2013.71,-12) (2013.79,-2) (2013.88,-6) (2013.96,-12)
(2014.04,-10) (2014.12,-2) (2014.21,-12) (2014.29,-4) (2014.38,-12) (2014.46,-2) (2014.54,-8) (2014.62,-4) (2014.71,-12) (2014.79,-12) (2014.88,-24) (2014.96,-20)
(2015.04,-20) (2015.12,-28) (2015.21,-22) (2015.29,-30) (2015.38,-25) (2015.46,-34) (2015.54,-32) (2015.62,-40) (2015.71,-35) (2015.79,-46) (2015.88,-42) (2015.96,-52)
(2016.04,-48) (2016.12,-44) (2016.21,-34) (2016.29,-40) (2016.38,-38) (2016.46,-44) (2016.54,-40) (2016.60,-48)
};
\addplot[cred, pts, forget plot] coordinates {
(2000.02,260) (2000.06,275) (2000.10,240) (2000.14,265) (2000.19,290) (2000.23,310) (2000.27,320) (2000.31,345) (2000.35,380) (2000.40,410) (2000.44,430) (2000.48,420)
(2000.52,445) (2000.56,400) (2000.60,430) (2000.64,410) (2000.69,375) (2000.73,385) (2000.77,360) (2000.81,420)
(2001.10,540) (2001.14,460) (2001.17,520) (2001.20,470) (2001.23,620) (2001.27,580) (2001.31,610) (2001.35,630) (2001.40,600) (2001.44,620) (2001.48,585) (2001.52,605)
(2001.56,575) (2001.60,590) (2001.65,610) (2001.69,590) (2001.73,650) (2001.77,630) (2001.81,680) (2001.85,640) (2001.90,700) (2001.94,670) (2001.98,690)
(2002.02,600) (2002.10,500) (2002.14,470) (2002.19,450) (2002.23,420) (2002.27,425) (2002.31,395) (2002.35,370) (2002.40,395) (2002.44,355) (2002.48,375) (2002.52,340)
(2002.56,365) (2002.60,330) (2002.65,355) (2002.69,325) (2002.73,350) (2002.77,310) (2002.81,335) (2002.85,305) (2002.90,330) (2002.94,280) (2002.98,300)
};
\addlegendimage{black, line width=2.2pt, lnlegend}
\addlegendentry{\lgt{0,0\%}}
\fill[white] (axis cs:1999.23,833) rectangle (axis cs:2020.38,905);
\end{axis}
\node[anchor=base, inner sep=0pt, text=ctxt] at (422,383.35) {\resizebox{626.5pt}{\height}{\fontsize{12.1}{14}\selectfont\bfseries Performance par rapport à l\textquotesingle indice EURO STOXX 50 GROSS TR\ \ du placement VISCOFAN SA en fonction de la date de début pour des durées}};
\node[anchor=base, inner sep=0pt, text=ctxt] at (422,368.5) {\resizebox{496pt}{\height}{\fontsize{12.1}{14}\selectfont\bfseries entre 4 (A04) et 10 ans (A10).\ \ Cotations entre janv. 2000 et juil. 2026. Revenus\ \ CAPITALISES\ \ depuis janv. 2000.}};
\end{tikzpicture}
\end{document}
